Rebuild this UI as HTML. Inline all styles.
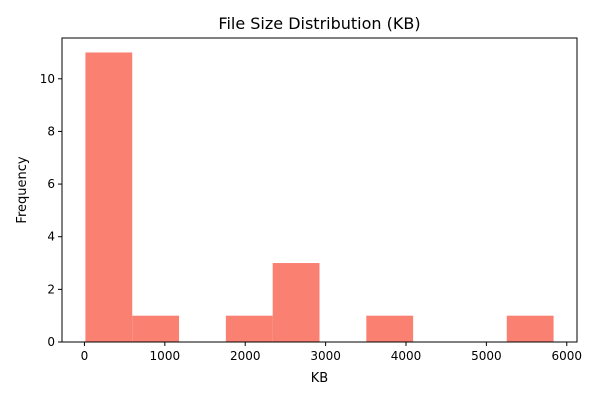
<!DOCTYPE html>
<html><head><meta charset="utf-8"><style>
body{margin:0;background:#fff;font-family:"Liberation Sans","DejaVu Sans",sans-serif}
svg text{font-family:"DejaVu Sans","Liberation Sans",sans-serif}
</style></head><body>
<svg id="chart" width="600" height="400">
<text x="319.5" y="29" font-size="16" text-anchor="middle">File Size Distribution (KB)</text>
<g id="bars"></g>
<g id="axes"></g>
<text x="319.5" y="382" font-size="13" text-anchor="middle">KB</text>
<text x="0" y="0" font-size="13" text-anchor="middle" transform="translate(26,190) rotate(-90)">Frequency</text>
</svg>
<script>
const binStart = 12;
const binEnd = 5836;
const counts = [11, 1, 0, 1, 3, 0, 1, 0, 0, 1];
const xTicks = [0, 1000, 2000, 3000, 4000, 5000, 6000];
const yTicks = [0, 2, 4, 6, 8, 10];

const L=62,R=577,T=38,B=342;
const span=binEnd-binStart;
const xmin=binStart-span*0.05, xmax=binEnd+span*0.05;
const ymax=Math.max(...counts)*1.05;
const xs=v=>L+(v-xmin)/(xmax-xmin)*(R-L);
const ys=v=>B-v/ymax*(B-T);
const NS="http://www.w3.org/2000/svg";
const bars=document.getElementById('bars'), axes=document.getElementById('axes');
const w=span/counts.length;
counts.forEach((c,i)=>{
  if(c<=0) return;
  const r=document.createElementNS(NS,'rect');
  const x0=xs(binStart+i*w), x1=xs(binStart+(i+1)*w);
  r.setAttribute('x',x0);r.setAttribute('width',x1-x0);
  r.setAttribute('y',ys(c));r.setAttribute('height',ys(0)-ys(c));
  r.setAttribute('fill','#fa8072');
  
  
  bars.appendChild(r);
});
const frame=document.createElementNS(NS,'rect');
frame.setAttribute('x',L);frame.setAttribute('y',T);frame.setAttribute('width',R-L);frame.setAttribute('height',B-T);
frame.setAttribute('fill','none');frame.setAttribute('stroke','#000');frame.setAttribute('stroke-width','1');


axes.appendChild(frame);
xTicks.forEach(t=>{
  const x=xs(t);
  const l=document.createElementNS(NS,'line');
  l.setAttribute('x1',x);l.setAttribute('x2',x);l.setAttribute('y1',B);l.setAttribute('y2',B+4);l.setAttribute('stroke','#000');
  axes.appendChild(l);
  const tx=document.createElementNS(NS,'text');
  tx.setAttribute('x',x);tx.setAttribute('y',B+18);tx.setAttribute('font-size','12');tx.setAttribute('text-anchor','middle');
  tx.textContent=t;
  
  
  axes.appendChild(tx);
});
yTicks.forEach(t=>{
  const y=ys(t);
  const l=document.createElementNS(NS,'line');
  l.setAttribute('x1',L-4);l.setAttribute('x2',L);l.setAttribute('y1',y);l.setAttribute('y2',y);l.setAttribute('stroke','#000');
  axes.appendChild(l);
  const tx=document.createElementNS(NS,'text');
  tx.setAttribute('x',L-7);tx.setAttribute('y',y+4);tx.setAttribute('font-size','12');tx.setAttribute('text-anchor','end');
  tx.textContent=t;
  
  
  axes.appendChild(tx);
});
</script>
</body></html>
